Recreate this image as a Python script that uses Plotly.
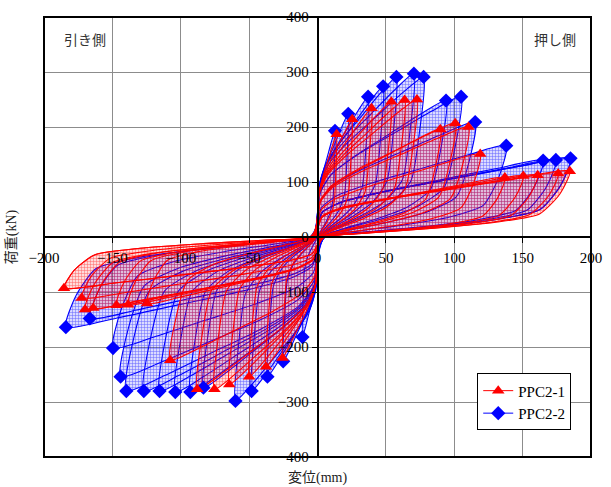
import plotly.graph_objects as go

# Envelope peaks (first-cycle peaks of each amplitude), disp in mm, load in kN
red_pos_x = [14, 25.4, 39.5, 54, 63.7, 72.7, 89.8, 100.7, 110.4, 119, 137, 150.5, 161, 176, 184.5]
red_pos_y = [187, 214, 234, 246, 249, 250, 196, 207, 200, 151, 108, 111, 112.5, 115.5, 119.6]
red_neg_x = [-25.6, -37.7, -50, -64.5, -75.4, -88, -107.7, -124.7, -138.5, -147, -164, -170, -172.5, -185.4]
red_neg_y = [-220, -236, -254, -268, -277, -277, -224, -121, -123, -124, -129, -132, -111, -93]

blue_pos_x = [12.8, 22.5, 37, 48, 57.7, 70.5, 77.6, 94, 105, 115.3, 138, 165, 174.3, 185]
blue_pos_y = [193, 224, 255, 274, 291, 297, 291, 248, 255, 209, 166, 139, 140, 143]
blue_neg_x = [-11, -25.1, -36.6, -48.2, -60, -83.4, -93, -104, -115.5, -127, -139.8, -144, -149.5, -166.5, -184]
blue_neg_y = [-182, -226, -254, -280, -298, -274, -282, -282, -280, -280, -280, -254, -202, -148, -164]

# Loop shape (fractions of the cycle peak) for the pinched hysteresis curves
reload_fx = [0.0, 0.02, 0.1, 0.3, 0.55, 0.8, 1.0]
reload_fy = [0.15, 0.32, 0.45, 0.6, 0.75, 0.9, 1.0]
unload_fx = [1.0, 0.96, 0.88, 0.7, 0.45, 0.2, 0.03]
unload_fy = [1.0, 0.65, 0.35, 0.22, 0.13, 0.06, 0.0]

x_ticks = [-200, -150, -100, -50, 0, 50, 100, 150, 200]
y_ticks = [-400, -300, -200, -100, 0, 100, 200, 300, 400]


def loops(px, py, nx, ny):
    xs, ys = [], []
    n = max(len(px), len(nx))
    for i in range(n):
        dp, fp = px[min(i, len(px) - 1)], py[min(i, len(py) - 1)]
        dn, fn = nx[min(i, len(nx) - 1)], ny[min(i, len(ny) - 1)]
        cx, cy = [], []
        # positive reload and unload
        cx += [f * dp for f in reload_fx]
        cy += [g * fp for g in reload_fy]
        cx += [f * dp for f in unload_fx[1:]]
        cy += [g * fp for g in unload_fy[1:]]
        # negative reload (starts from the slip at zero displacement) and unload
        cx += [f * dn for f in reload_fx]
        cy += [g * fn for g in reload_fy]
        cx += [f * dn for f in unload_fx[1:]]
        cy += [g * fn for g in unload_fy[1:]]
        cx.append(cx[0])
        cy.append(cy[0])
        xs += cx + [None]
        ys += cy + [None]
    return xs, ys


fig = go.Figure()

specimens = [
    ("PPC2-2", blue_pos_x, blue_pos_y, blue_neg_x, blue_neg_y, "#0000FF", "rgba(0,0,255,0.14)", "diamond"),
    ("PPC2-1", red_pos_x, red_pos_y, red_neg_x, red_neg_y, "#FF0000", "rgba(255,0,0,0.14)", "triangle-up"),
]

for name, px, py, nx, ny, col, tint, sym in specimens:
    lx, ly = loops(px, py, nx, ny)
    fig.add_trace(go.Scatter(
        x=lx, y=ly, mode="lines", fill="toself", fillcolor=tint,
        fillpattern=dict(shape="+", size=3, solidity=0.3, fgcolor=col,
                         fgopacity=0.55, fillmode="overlay"),
        line=dict(color=col, width=1.1, shape="spline", smoothing=0.6),
        showlegend=False, hoverinfo="skip"))

for name, px, py, nx, ny, col, tint, sym in specimens:
    fig.add_trace(go.Scatter(
        x=px + nx, y=py + ny, mode="markers",
        marker=dict(symbol=sym, size=11, color=col, line=dict(width=0)),
        showlegend=False))

# legend entries
for name, px, py, nx, ny, col, tint, sym in reversed(specimens):
    fig.add_trace(go.Scatter(
        x=[None], y=[None], mode="lines+markers", name=name,
        line=dict(color=col, width=1),
        marker=dict(symbol=sym, size=11, color=col)))

axis_common = dict(
    showgrid=True, gridcolor="#8c8c8c", gridwidth=1,
    zeroline=False, showline=True, linecolor="black", linewidth=1.5,
    ticks="outside", ticklen=5, tickcolor="black", tickwidth=1,
    tickfont=dict(family="Liberation Serif", size=15, color="black"),
    anchor="free", position=0.5,
)

fig.update_layout(
    width=611, height=487,
    margin=dict(l=44, r=18, t=9, b=30),
    paper_bgcolor="white", plot_bgcolor="white",
    xaxis=dict(range=[-200, 200], tickvals=x_ticks, ticklabelstandoff=2, **axis_common),
    yaxis=dict(range=[-400, 400], tickvals=y_ticks, **axis_common),
    legend=dict(x=0.792, y=0.19, xanchor="left", yanchor="top",
                bgcolor="white", bordercolor="black", borderwidth=1,
                font=dict(family="Liberation Serif", size=15, color="black"),
                tracegroupgap=0, itemwidth=30),
    shapes=[dict(type="rect", xref="paper", yref="paper", x0=0, y0=0, x1=1, y1=1,
                 line=dict(color="black", width=2), layer="above")],
    annotations=[
        dict(text="変位(mm)", x=0.5, y=-0.047, xref="paper", yref="paper",
             xanchor="center", yanchor="middle", showarrow=False,
             font=dict(family="Liberation Serif, Noto Sans CJK JP", size=14, color="#222")),
        dict(text="荷重(kN)", x=-0.058, y=0.5, xref="paper", yref="paper",
             textangle=-90, xanchor="center", yanchor="middle", showarrow=False,
             font=dict(family="Liberation Serif, Noto Sans CJK JP", size=14, color="#222")),
        dict(text="引き側", x=0.075, y=0.95, xref="paper", yref="paper",
             xanchor="center", yanchor="middle", showarrow=False,
             font=dict(family="Noto Sans CJK JP", size=14, color="#333")),
        dict(text="押し側", x=0.935, y=0.95, xref="paper", yref="paper",
             xanchor="center", yanchor="middle", showarrow=False,
             font=dict(family="Noto Sans CJK JP", size=14, color="#333")),
    ],
)

fig.write_html("out.html")
